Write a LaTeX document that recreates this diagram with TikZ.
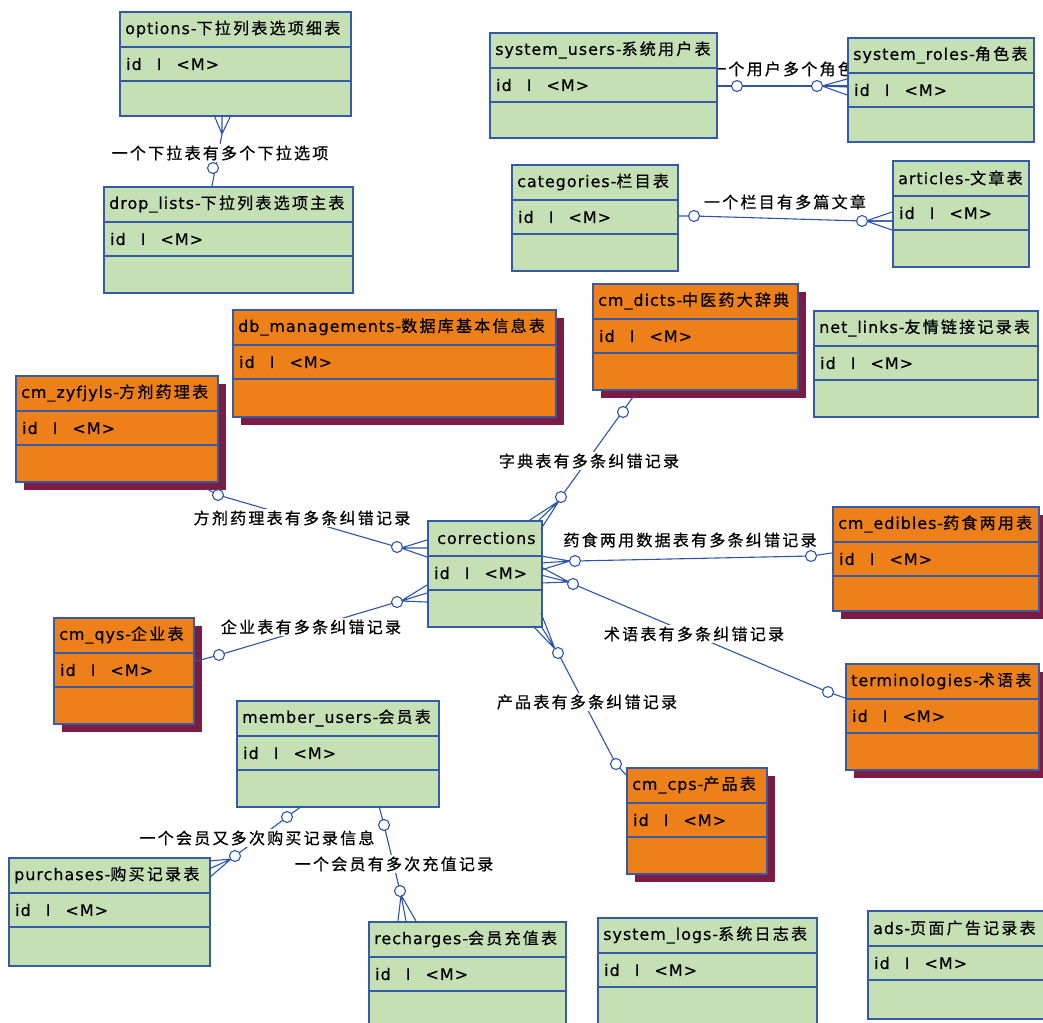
\documentclass[tikz,border=0pt]{standalone}
\usepackage{fontspec}
\setmainfont{DejaVu Sans}[LetterSpace=6,FakeBold=0.5]
\newfontfamily\cjk{Noto Sans CJK SC}[LetterSpace=14,FakeBold=0.6]
\usetikzlibrary{shadows}
\definecolor{boxgreen}{RGB}{197,224,180}
\definecolor{boxorange}{RGB}{238,128,26}
\definecolor{boxblue}{RGB}{52,90,168}
\definecolor{shadowred}{RGB}{124,28,68}
\definecolor{linkblue}{RGB}{45,85,170}
% #1 name #2 x #3 y #4 w #5 h #6 style #7 latin #8 cjk
\newcommand\entity[8]{%
  \node[#6, minimum width=#4pt, minimum height=#5pt, anchor=north west] (#1) at (#2,#3) {};
  \draw[rowline] ([yshift=-36pt]#1.north west) -- ([yshift=-36pt]#1.north east);
  \draw[rowline] ([yshift=-70pt]#1.north west) -- ([yshift=-70pt]#1.north east);
  \node[ttext] (#1-t) at ([xshift=6pt,yshift=-18pt]#1.north west) {#7{\cjk #8}};
  \node[ttext] (#1-i) at ([xshift=7pt,yshift=-53pt]#1.north west) {id\hspace{15pt}I\hspace{15pt}<M>};
}
\newcommand\crowfoot[4]{\draw[conn] (#1) -- (#2) (#1) -- (#3) (#1) -- (#4);}
\begin{document}
\begin{tikzpicture}[x=1pt,y=-1pt,
  greenbox/.style={draw=boxblue, fill=boxgreen, line width=1.7pt, inner sep=0pt},
  orangebox/.style={draw=boxblue, fill=boxorange, line width=1.7pt, inner sep=0pt,
    drop shadow={shadow xshift=8pt, shadow yshift=-8pt, fill=shadowred, opacity=1}},
  rowline/.style={draw=boxblue, line width=1.5pt},
  ttext/.style={anchor=west, inner sep=0pt, font=\fontsize{16}{18}\selectfont},
  conn/.style={draw=linkblue, line width=1.1pt},
  opt/.style={circle, draw=linkblue, fill=white, line width=1.1pt, inner sep=0pt, minimum size=11pt},
  lbl/.style={font=\fontsize{16}{18}\selectfont\cjk, fill=white, inner sep=1.5pt}]
\useasboundingbox (0,0) rectangle (1043,1022);
\clip (0,0) rectangle (1043,1022);
\fill[white] (0,0) rectangle (1043,1022);

% label lying under the two boxes
\node[lbl] (l2) at (782,69) {一个用户多个角色};

% entities
\entity{options}{119}{11}{231}{104}{greenbox}{options-}{下拉列表选项细表}
\entity{droplists}{103}{186}{249}{106}{greenbox}{drop\_lists-}{下拉列表选项主表}
\entity{sysusers}{489}{32}{227}{105}{greenbox}{system\_users-}{系统用户表}
\entity{sysroles}{847}{37}{186}{104}{greenbox}{system\_roles-}{角色表}
\entity{categories}{511}{164}{166}{106}{greenbox}{categories-}{栏目表}
\entity{articles}{892}{160}{136}{106}{greenbox}{articles-}{文章表}
\entity{dbman}{232}{309}{323}{107}{orangebox}{db\_managements-}{数据库基本信息表}
\entity{dicts}{592}{283}{205}{106}{orangebox}{cm\_dicts-}{中医药大辞典}
\entity{netlinks}{813}{310}{224}{106}{greenbox}{net\_links-}{友情链接记录表}
\entity{zyfjyls}{15}{375}{202}{106}{orangebox}{cm\_zyfjyls-}{方剂药理表}
\entity{corrections}{427}{520}{114}{106}{greenbox}{\hspace{4pt}corrections}{}
\entity{edibles}{832}{506}{206}{104}{orangebox}{cm\_edibles-}{药食两用表}
\entity{qys}{53}{617}{140}{106}{orangebox}{cm\_qys-}{企业表}
\entity{terms}{845}{663}{193}{106}{orangebox}{terminologies-}{术语表}
\entity{members}{236}{700}{202}{106}{greenbox}{member\_users-}{会员表}
\entity{cps}{626}{767}{140}{106}{orangebox}{cm\_cps-}{产品表}
\entity{purchases}{8}{857}{201}{108}{greenbox}{purchases-}{购买记录表}
\entity{recharges}{368}{921}{197}{106}{greenbox}{recharges-}{会员充值表}
\entity{syslogs}{597}{917}{219}{106}{greenbox}{system\_logs-}{系统日志表}
\entity{ads}{867}{910}{180}{108}{greenbox}{ads-}{页面广告记录表}

% ---------- R1 options - drop_lists
\coordinate (r1t) at (222,134);
\coordinate (r1b) at (212,186);
\draw[conn] (r1t) -- (r1b);
\crowfoot{r1t}{214,115}{222,115}{231,115}
\node[lbl] (l1) at (220,153) {一个下拉表有多个下拉选项};
\node[opt] (r1cb) at (213,168) {};

% ---------- R2 system_users - system_roles
\coordinate (r2a) at (716,86);
\coordinate (r2t) at (822,86);
\coordinate (r2b) at (847,86);
\draw[conn] (r2a) -- (r2b);
\crowfoot{r2t}{847,79}{847,87}{847,95}
\node[opt] (r2ca) at (737,86) {};
\node[opt] (r2cb) at (817,86) {};

% ---------- R3 categories - articles
\coordinate (r3a) at (677,216);
\coordinate (r3t) at (866,221);
\coordinate (r3b) at (892,221);
\draw[conn] (r3a) -- (694,216) -- (862,221) -- (r3b);
\crowfoot{r3t}{892,212}{892,221}{892,230}
\node[lbl, fill=none] (l3) at (785,202) {一个栏目有多篇文章};
\node[opt] (r3ca) at (694,216) {};
\node[opt] (r3cb) at (862,221) {};

% ---------- R4 cm_dicts - corrections
\coordinate (r4a) at (633,397);
\coordinate (r4t) at (559,501);
\draw[conn] (r4a) -- (561,497);
\crowfoot{r4t}{530,520}{539,520}{541,529}
\node[lbl] (l4) at (589,461) {字典表有多条纠错记录};
\node[opt] (r4ca) at (623,412) {};
\node[opt] (r4cb) at (561,497) {};

% ---------- R5 cm_zyfjyls - corrections
\coordinate (r5a) at (207,489);
\coordinate (r5t) at (401,548);
\draw[conn] (r5a) -- (218,495) -- (397,547);
\crowfoot{r5t}{427,540}{427,548}{427,557}
\node[lbl] (l5) at (302,518) {方剂药理表有多条纠错记录};
\node[opt] (r5ca) at (218,495) {};
\node[opt] (r5cb) at (397,547) {};

% ---------- R6 cm_qys - corrections
\coordinate (r6a) at (193,662);
\coordinate (r6t) at (401,601);
\draw[conn] (r6a) -- (219,655) -- (397,602);
\crowfoot{r6t}{427,585}{427,593}{427,602}
\node[lbl] (l6) at (311,627) {企业表有多条纠错记录};
\node[opt] (r6ca) at (219,655) {};
\node[opt] (r6cb) at (397,602) {};

% ---------- R7 corrections - cm_edibles
\coordinate (r7t) at (570,561);
\coordinate (r7b) at (832,553);
\draw[conn] (575,561) -- (811,556) -- (r7b);
\crowfoot{r7t}{541,556}{541,563}{541,570}
\node[lbl, fill=none] (l7) at (690,540) {药食两用数据表有多条纠错记录};
\node[opt] (r7ca) at (575,561) {};
\node[opt] (r7cb) at (811,556) {};

% ---------- R8 corrections - terminologies
\coordinate (r8t) at (569,582);
\coordinate (r8b) at (845,698);
\draw[conn] (573,584) -- (828,692) -- (r8b);
\crowfoot{r8t}{541,567}{541,575}{541,583}
\node[lbl] (l8) at (694,634) {术语表有多条纠错记录};
\node[opt] (r8ca) at (573,584) {};
\node[opt] (r8cb) at (828,692) {};

% ---------- R9 corrections - cm_cps
\coordinate (r9t) at (555,649);
\coordinate (r9b) at (627,776);
\draw[conn] (558,653) -- (616,764) -- (r9b);
\crowfoot{r9t}{533,626}{541,626}{541,613}
\node[lbl] (l9) at (587,702) {产品表有多条纠错记录};
\node[opt] (r9ca) at (558,653) {};
\node[opt] (r9cb) at (616,764) {};

% ---------- R10 member_users - purchases
\coordinate (r10a) at (302,806);
\coordinate (r10t) at (231,859);
\draw[conn] (r10a) -- (287,817) -- (235,856);
\crowfoot{r10t}{209,861}{209,869}{209,878}
\node[lbl] (l10) at (257,838) {一个会员又多次购买记录信息};
\node[opt] (r10ca) at (287,817) {};
\node[opt] (r10cb) at (235,856) {};

% ---------- R11 member_users - recharges
\coordinate (r11a) at (379,806);
\coordinate (r11t) at (401,895);
\draw[conn] (r11a) -- (384,825) -- (400,891);
\crowfoot{r11t}{398,921}{406,921}{416,921}
\node[lbl] (l11) at (394,864) {一个会员有多次充值记录};
\node[opt] (r11ca) at (384,825) {};
\node[opt] (r11cb) at (400,891) {};
\end{tikzpicture}
\end{document}
